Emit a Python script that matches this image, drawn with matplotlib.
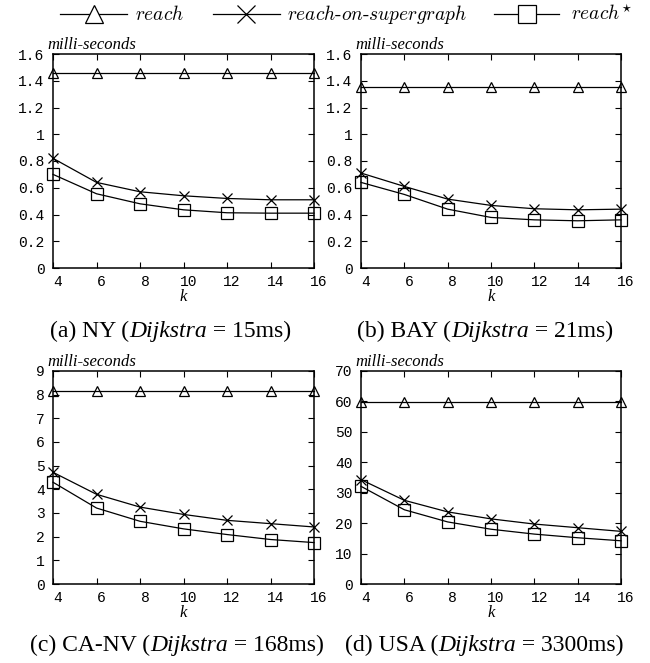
import matplotlib
matplotlib.use("Agg")
import matplotlib.pyplot as plt
import matplotlib.transforms as mtrans
from matplotlib.lines import Line2D

k = [4, 6, 8, 10, 12, 14, 16]

ny_reach = [1.46, 1.46, 1.46, 1.46, 1.46, 1.46, 1.46]
ny_super = [0.82, 0.64, 0.57, 0.54, 0.52, 0.51, 0.51]
ny_star = [0.70, 0.555, 0.48, 0.435, 0.413, 0.41, 0.41]

bay_reach = [1.355, 1.355, 1.355, 1.355, 1.355, 1.355, 1.355]
bay_super = [0.71, 0.61, 0.515, 0.468, 0.443, 0.435, 0.44]
bay_star = [0.64, 0.55, 0.44, 0.378, 0.36, 0.353, 0.36]

ca_reach = [8.15, 8.15, 8.15, 8.15, 8.15, 8.15, 8.15]
ca_super = [4.72, 3.79, 3.25, 2.94, 2.69, 2.55, 2.41]
ca_star = [4.30, 3.21, 2.65, 2.33, 2.09, 1.88, 1.75]

usa_reach = [59.7, 59.7, 59.7, 59.7, 59.7, 59.7, 59.7]
usa_super = [34.3, 27.5, 23.7, 21.4, 19.7, 18.5, 17.3]
usa_star = [32.1, 24.4, 20.4, 18.0, 16.4, 15.2, 14.2]

series_labels = [r"$\mathit{reach}$",
                 r"$\mathit{reach}\text{-}\mathit{on}\text{-}\mathit{supergraph}$",
                 r"$\mathit{reach}^{\star}$"]
captions = [("(a) NY (", "Dijkstra", " = 15ms)"),
            ("(b) BAY (", "Dijkstra", " = 21ms)"),
            ("(c) CA-NV (", "Dijkstra", " = 168ms)"),
            ("(d) USA (", "Dijkstra", " = 3300ms)")]
yticks_list = [
    ([0, 0.2, 0.4, 0.6, 0.8, 1.0, 1.2, 1.4, 1.6], ["0", "0.2", "0.4", "0.6", "0.8", "1", "1.2", "1.4", "1.6"]),
    ([0, 0.2, 0.4, 0.6, 0.8, 1.0, 1.2, 1.4, 1.6], ["0", "0.2", "0.4", "0.6", "0.8", "1", "1.2", "1.4", "1.6"]),
    (list(range(0, 10)), [str(v) for v in range(0, 10)]),
    (list(range(0, 80, 10)), [str(v) for v in range(0, 80, 10)]),
]
data = [(ny_reach, ny_super, ny_star), (bay_reach, bay_super, bay_star),
        (ca_reach, ca_super, ca_star), (usa_reach, usa_super, usa_star)]

W, H = 650, 663
fig = plt.figure(figsize=(W / 100, H / 100), dpi=100)

# pixel boxes: left, right, top, bottom
boxes = [(53, 314, 54, 268), (361, 621, 54, 268), (53, 314, 371, 584), (361, 621, 371, 584)]
cap_pos = [(171, 329), (485, 329), (177, 643), (484, 643)]

mono = "Liberation Mono"
serif = "Liberation Serif"
markers = ["^", "x", "s"]
msizes = [7.5, 7.5, 8]

for i, (l, r, t, b) in enumerate(boxes):
    ax = fig.add_axes([l / W, 1 - b / H, (r - l) / W, (b - t) / H])
    for j, ys in enumerate(data[i]):
        ax.plot(k, ys, color="black", lw=0.9, marker=markers[j], ms=msizes[j],
                mfc="none", mec="black", mew=0.9, clip_on=False, zorder=3)
    ax.set_xlim(4, 16)
    yt, yl = yticks_list[i]
    ax.set_ylim(yt[0], yt[-1])
    ax.set_yticks(yt)
    ax.set_yticklabels(yl, fontfamily=mono, fontsize=10.5)
    ax.set_xticks(k)
    ax.set_xticklabels([str(v) for v in k], fontfamily=mono, fontsize=10.5)
    ax.tick_params(direction="in", length=4.5, width=0.8, top=True, right=True,
                   pad=6)
    ax.tick_params(axis="x", pad=5)
    off = mtrans.ScaledTranslation(5 / 100, 0, fig.dpi_scale_trans)
    for lab in ax.get_xticklabels():
        lab.set_transform(lab.get_transform() + off)
    for s in ax.spines.values():
        s.set_linewidth(1.1)
    ax.text(-0.02, 1.005, "milli-seconds", transform=ax.transAxes, ha="left", va="bottom",
            fontfamily=serif, fontstyle="italic", fontsize=12)
    ax.text(0.5, -0.135, "k", transform=ax.transAxes, ha="center", va="center",
            fontfamily=serif, fontstyle="italic", fontsize=12)
    # caption
    cx, cy = cap_pos[i]
    p1, p2, p3 = captions[i]
    fs = 17
    t1 = fig.text(0, 0, p1, fontfamily=serif, fontsize=fs)
    t2 = fig.text(0, 0, p2, fontfamily=serif, fontsize=fs, fontstyle="italic")
    t3 = fig.text(0, 0, p3, fontfamily=serif, fontsize=fs)
    fig.canvas.draw()
    rend = fig.canvas.get_renderer()
    w1 = t1.get_window_extent(rend).width
    w2 = t2.get_window_extent(rend).width
    w3 = t3.get_window_extent(rend).width
    tot = w1 + w2 + w3
    x0 = cx - tot / 2
    yy = 1 - cy / H
    for tt, xx in ((t1, x0), (t2, x0 + w1), (t3, x0 + w1 + w2)):
        tt.set_position((xx / W, yy))
        tt.set_va("center_baseline")

# legend
leg_y = 1 - 14 / H
leg_items = [(60, 127, 135), (213, 280, 287), (494, 559, 571)]
leg_ms = [13.5, 13.5, 12.5]
for j, (x1, x2, xt) in enumerate(leg_items):
    ln = Line2D([x1 / W, x2 / W], [leg_y, leg_y], transform=fig.transFigure,
                color="black", lw=0.9)
    fig.add_artist(ln)
    mk = Line2D([(x1 + x2) / 2 / W], [leg_y], transform=fig.transFigure,
                marker=markers[j], ms=leg_ms[j], mfc="white", mec="black", mew=0.9, lw=0)
    fig.add_artist(mk)
    fig.text(xt / W, leg_y, series_labels[j], math_fontfamily="cm",
             fontsize=14, va="center", ha="left")

fig.savefig("out.png", dpi=100)
